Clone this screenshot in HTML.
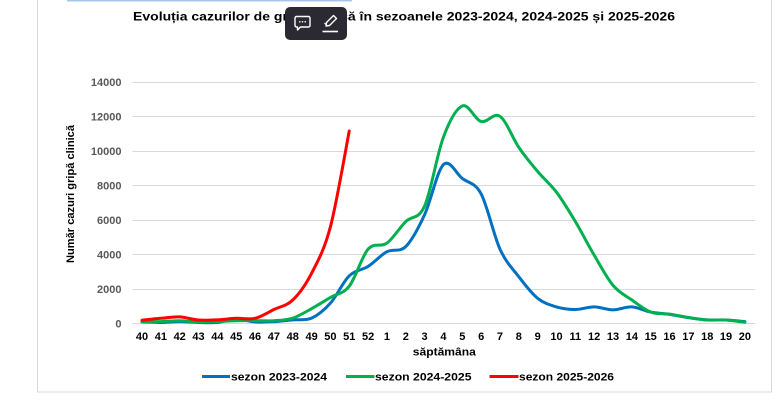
<!DOCTYPE html>
<html>
<head>
<meta charset="utf-8">
<style>
  html, body { margin:0; padding:0; background:#ffffff; }
  body { width:782px; height:409px; overflow:hidden; }
  svg { display:block; }
  text { font-family: "Liberation Sans", Arial, sans-serif; }
</style>
</head>
<body>
<svg id="chart" width="782" height="409" viewBox="0 0 782 409" xmlns="http://www.w3.org/2000/svg">
  <rect x="0" y="0" width="782" height="409" fill="#ffffff"/>
  <!-- chart border -->
  <rect x="37.5" y="-1" width="734" height="393" fill="none" stroke="#d9d9d9" stroke-width="1"/>
  <!-- top light blue band -->
  <rect x="67" y="0" width="285" height="1.5" fill="#a9c4ec"/>

  <!-- title -->
  <text x="133" y="20.5" font-size="11.5" font-weight="bold" fill="#000" textLength="542" lengthAdjust="spacingAndGlyphs">Evoluția cazurilor  de gripă clinică în sezoanele 2023-2024, 2024-2025 și 2025-2026</text>

  <!-- gridlines -->
  <g id="grid" stroke="#d9d9d9" stroke-width="1"></g>
  <g id="ylabels" font-size="11" font-weight="bold" fill="#595959" text-anchor="end"></g>
  <g id="xlabels" font-size="11" font-weight="bold" fill="#000" text-anchor="middle"></g>

  <!-- axis titles -->
  <text transform="translate(74,194) rotate(-90)" font-size="11" font-weight="bold" fill="#000" text-anchor="middle" textLength="138" lengthAdjust="spacingAndGlyphs">Număr cazuri gripă clinică</text>
  <text x="444.3" y="355.5" font-size="11" font-weight="bold" fill="#000" text-anchor="middle" textLength="63" lengthAdjust="spacingAndGlyphs">săptămâna</text>

  <!-- series -->
  <g id="series" fill="none" stroke-width="3" stroke-linecap="round" stroke-linejoin="round"></g>

  <!-- legend -->
  <line x1="202" y1="376.5" x2="230" y2="376.5" stroke="#0070C0" stroke-width="3"/>
  <text x="231" y="380.5" font-size="11" font-weight="bold" fill="#000" textLength="96" lengthAdjust="spacingAndGlyphs">sezon 2023-2024</text>
  <line x1="346" y1="376.5" x2="374.5" y2="376.5" stroke="#00B050" stroke-width="3"/>
  <text x="375" y="380.5" font-size="11" font-weight="bold" fill="#000" textLength="96.5" lengthAdjust="spacingAndGlyphs">sezon 2024-2025</text>
  <line x1="489.5" y1="376.5" x2="518.5" y2="376.5" stroke="#FF0000" stroke-width="3"/>
  <text x="519" y="380.5" font-size="11" font-weight="bold" fill="#000" textLength="95" lengthAdjust="spacingAndGlyphs">sezon 2025-2026</text>

  <!-- popup toolbar -->
  <rect x="285" y="7" width="62" height="33" rx="5" ry="5" fill="#2b2a33"/>
  <path d="M296.5 16.5 h12 a1.5 1.5 0 0 1 1.5 1.5 v7.5 a1.5 1.5 0 0 1 -1.5 1.5 h-8 l-3 3 v-3 h-1 a1.5 1.5 0 0 1 -1.5 -1.5 v-7.5 a1.5 1.5 0 0 1 1.5 -1.5 z" fill="none" stroke="#ffffff" stroke-width="1.4" stroke-linejoin="round"/>
  <circle cx="299.8" cy="21.8" r="0.8" fill="#fff"/>
  <circle cx="302.5" cy="21.8" r="0.8" fill="#fff"/>
  <circle cx="305.2" cy="21.8" r="0.8" fill="#fff"/>
  <path d="M333.5 15.5 l3 3 l-7 7 l-3.5 0.5 l0.5 -3.5 z" fill="none" stroke="#ffffff" stroke-width="1.4" stroke-linejoin="round"/>
  <line x1="324.5" y1="23" x2="327.5" y2="26" stroke="#fff" stroke-width="1.2"/>
  <line x1="322.5" y1="31.5" x2="338" y2="31.5" stroke="#ffffff" stroke-width="1.6"/>
</svg>
<script>
(function(){
  var NS = "http://www.w3.org/2000/svg";
  function y(v){ return 323.3 - v*0.01725; }
  function x(i){ return 132.6 + 18.84*(i+0.5); }
  var grid = document.getElementById('grid');
  var yl = document.getElementById('ylabels');
  for (var v=0; v<=14000; v+=2000){
    var yy = Math.round(y(v))+0.5;
    var l = document.createElementNS(NS,'line');
    l.setAttribute('x1',132.6); l.setAttribute('x2',755);
    l.setAttribute('y1',yy); l.setAttribute('y2',yy);
    grid.appendChild(l);
    var t = document.createElementNS(NS,'text');
    t.setAttribute('x',121.5); t.setAttribute('y',y(v)+4);
    t.textContent = String(v);
    yl.appendChild(t);
  }
  var weeks = [40,41,42,43,44,45,46,47,48,49,50,51,52,1,2,3,4,5,6,7,8,9,10,11,12,13,14,15,16,17,18,19,20];
  var xl = document.getElementById('xlabels');
  for (var i=0;i<weeks.length;i++){
    var t = document.createElementNS(NS,'text');
    t.setAttribute('x',x(i)); t.setAttribute('y',340);
    t.textContent = String(weeks[i]);
    xl.appendChild(t);
  }
  var blue = [80,50,100,50,50,250,80,100,200,300,1170,2750,3300,4150,4450,6300,9200,8400,7500,4300,2700,1450,950,800,950,780,950,650,520,330,200,190,100];
  var green = [100,100,150,80,100,150,150,150,300,850,1500,2150,4300,4650,5900,6800,10800,12600,11700,12000,10200,8800,7600,5900,3950,2200,1350,650,530,340,190,190,60];
  var red = [180,290,370,190,200,290,290,800,1350,2900,5600,11150];
  function path(data){
    var p = data.map(function(v,i){ return [x(i), y(v)]; });
    var d = 'M'+p[0][0].toFixed(2)+' '+p[0][1].toFixed(2);
    for (var i=0;i<p.length-1;i++){
      var p0 = p[i-1]||p[i], p1=p[i], p2=p[i+1], p3=p[i+2]||p[i+1];
      var c1x = p1[0]+(p2[0]-p0[0])/6, c1y = p1[1]+(p2[1]-p0[1])/6;
      var c2x = p2[0]-(p3[0]-p1[0])/6, c2y = p2[1]-(p3[1]-p1[1])/6;
      d += ' C'+c1x.toFixed(2)+' '+c1y.toFixed(2)+' '+c2x.toFixed(2)+' '+c2y.toFixed(2)+' '+p2[0].toFixed(2)+' '+p2[1].toFixed(2);
    }
    return d;
  }
  var s = document.getElementById('series');
  [[blue,'#0070C0'],[green,'#00B050'],[red,'#FF0000']].forEach(function(a){
    var pe = document.createElementNS(NS,'path');
    pe.setAttribute('d', path(a[0]));
    pe.setAttribute('stroke', a[1]);
    s.appendChild(pe);
  });
})();
</script>
</body>
</html>
